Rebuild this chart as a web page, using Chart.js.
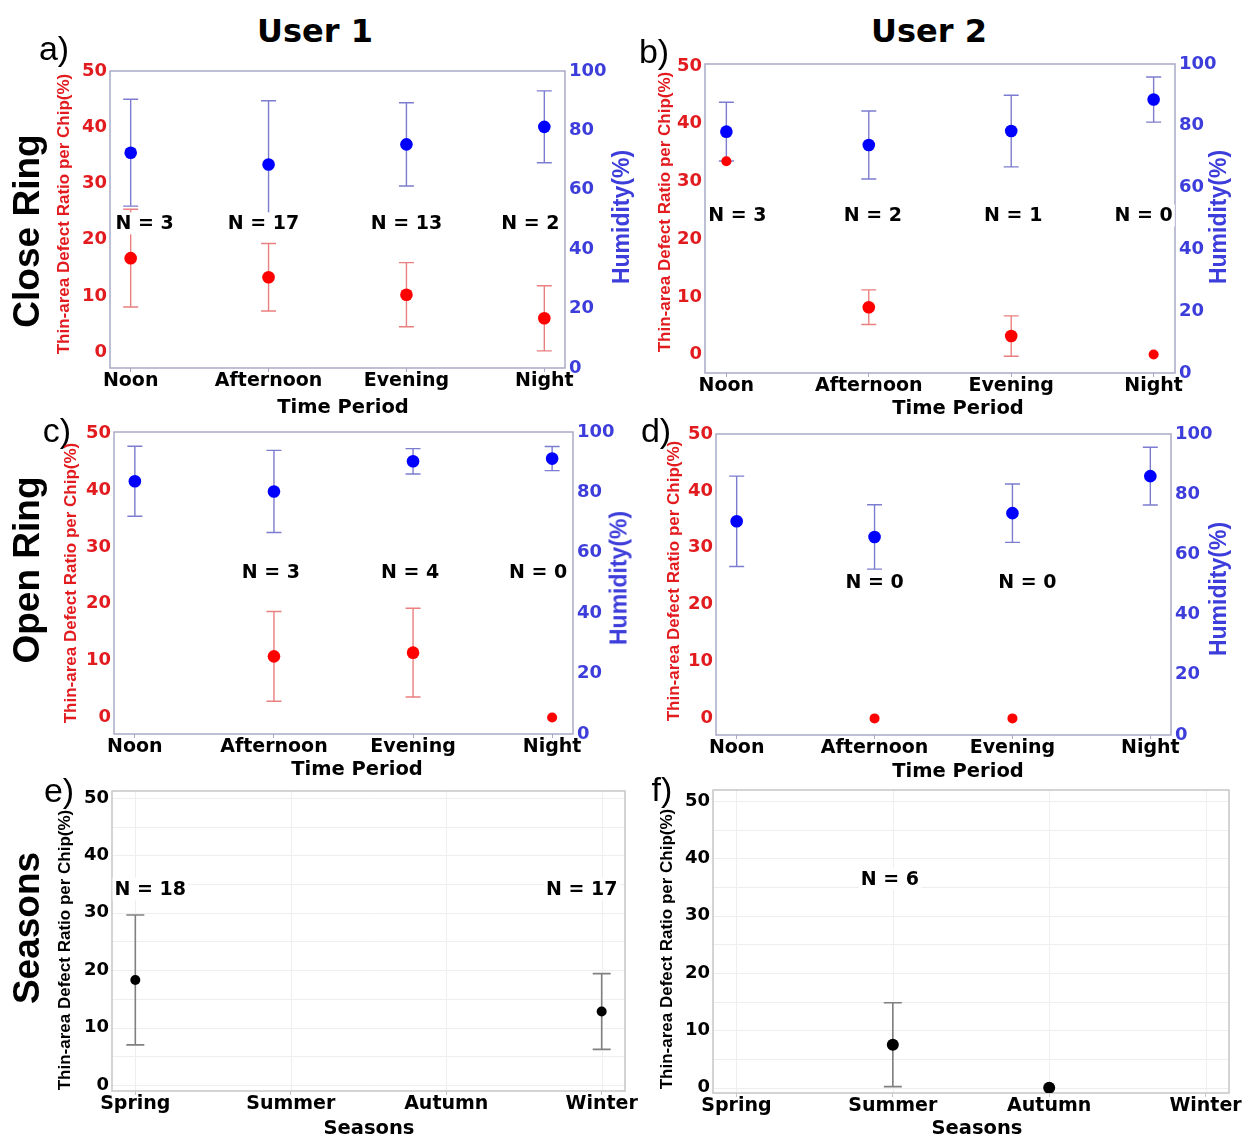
<!DOCTYPE html>
<html>
<head>
<meta charset="utf-8">
<script src="https://cdn.jsdelivr.net/npm/chart.js@4.4.1/dist/chart.umd.min.js"></script>
<style>
  html, body { margin: 0; padding: 0; background: #fff; }
  #fig { position: relative; width: 1244px; height: 1136px; overflow: hidden; background: #fff; }
  #fig canvas { position: absolute; }
  .txt { position: absolute; white-space: nowrap; line-height: 1; transform: translate(-50%, -50%); }
  .txt.rot { transform: translate(-50%, -50%) rotate(-90deg); }
</style>
</head>
<body>
<div id="fig"></div>
<script>
// ---- categories and tick labels ----
const timePeriods = ['Noon', 'Afternoon', 'Evening', 'Night'];
const seasons = ['Spring', 'Summer', 'Autumn', 'Winter'];
const categoryTicks = [0, 1, 2, 3];
const defectTicks = [0, 10, 20, 30, 40, 50];
const humidityTicks = [0, 20, 40, 60, 80, 100];
const seasonGridSteps = [0, 5, 10, 15, 20, 25, 30, 35, 40, 45, 50];

// ---- User 1, close ring ----
const defectCloseU1   = [16.7, 13.3, 10.2, 6.0];
const defectCloseU1Sd = [8.7, 6.0, 5.7, 5.8];
const humidCloseU1    = [72.5, 68.5, 75.3, 81.2];
const humidCloseU1Sd  = [18.0, 21.5, 14.0, 12.1];
const nCloseU1        = [3, 17, 13, 2];

// ---- User 2, close ring ----
const defectCloseU2   = [33.5, 8.2, 3.2, 0];
const defectCloseU2Sd = [0, 3.0, 3.5, 0];
const humidCloseU2    = [78.1, 73.8, 78.3, 88.5];
const humidCloseU2Sd  = [9.5, 11.0, 11.6, 7.3];
const nCloseU2        = [3, 2, 1, 0];

// ---- User 1, open ring ----
const defectOpenU1   = [null, 10.75, 11.4, 0];
const defectOpenU1Sd = [null, 7.9, 7.8, 0];
const humidOpenU1    = [83.7, 80.3, 90.3, 91.2];
const humidOpenU1Sd  = [11.6, 13.6, 4.2, 4.0];
const nOpenU1        = [null, 3, 4, 0];

// ---- User 2, open ring ----
const defectOpenU2   = [null, 0, 0, null];
const defectOpenU2Sd = [null, 0, 0, null];
const humidOpenU2    = [71.0, 65.8, 73.7, 86.0];
const humidOpenU2Sd  = [15.0, 10.7, 9.7, 9.6];
const nOpenU2        = [null, 0, 0, null];

// ---- seasons ----
const defectSeasonU1   = [18.3, null, null, 12.8];
const defectSeasonU1Sd = [11.3, null, null, 6.6];
const nSeasonU1        = [18, null, null, 17];
const defectSeasonU2   = [null, 7.5, 0, null];
const defectSeasonU2Sd = [null, 7.3, 0, null];
const nSeasonU2        = [null, 6, null, null];

// ---- styling ----
const RED = '#ff0000', RED_TXT = '#e21b1f', RED_BAR = '#ea7f7f';
const BLUE = '#0000ff', BLUE_TXT = '#3d3ddb', BLUE_BAR = '#7c7cd0';
const GREY_BAR = '#808080';
const FRAME_TIME = '#a9a9c6', FRAME_SEASON = '#c6c6c6';
const TICK_FONT = 'DejaVu Sans';

Chart.defaults.font.family = TICK_FONT;
Chart.defaults.animation = false;

const fig = document.getElementById('fig');

const panels = [
  { area: {l: 110, t: 70, r: 565, b: 368}, cats: timePeriods, yMin: -2.84, yMax: 50, dual: true,
    defect: defectCloseU1, defectSd: defectCloseU1Sd, humid: humidCloseU1, humidSd: humidCloseU1Sd,
    counts: nCloseU1, countY: 22.9, countDx: [14, -5, 0, -14] },
  { area: {l: 705, t: 63, r: 1175, b: 373}, cats: timePeriods, yMin: -3.2, yMax: 50.35, dual: true,
    defect: defectCloseU2, defectSd: defectCloseU2Sd, humid: humidCloseU2, humidSd: humidCloseU2Sd,
    counts: nCloseU2, countY: 24.1, countDx: [11, 4, 2, -10] },
  { area: {l: 114, t: 431, r: 573, b: 734}, cats: timePeriods, yMin: -2.9, yMax: 50.2, dual: true,
    defect: defectOpenU1, defectSd: defectOpenU1Sd, humid: humidOpenU1, humidSd: humidOpenU1Sd,
    counts: nOpenU1, countY: 25.5, countDx: [0, -3, -3, -14] },
  { area: {l: 716, t: 433, r: 1171, b: 735}, cats: timePeriods, yMin: -2.92, yMax: 50, dual: true,
    defect: defectOpenU2, defectSd: defectOpenU2Sd, humid: humidOpenU2, humidSd: humidOpenU2Sd,
    counts: nOpenU2, countY: 23.9, countDx: [0, 0, 15, 0] },
  { area: {l: 112, t: 791, r: 625, b: 1091}, cats: seasons, yMin: -1.04, yMax: 51.2, dual: false,
    defect: defectSeasonU1, defectSd: defectSeasonU1Sd, radius: 5,
    counts: nSeasonU1, countY: 34.2, countDx: [15, 0, 0, -20] },
  { area: {l: 713, t: 790, r: 1229, b: 1093}, cats: seasons, yMin: -0.92, yMax: 51.9, dual: false,
    defect: defectSeasonU2, defectSd: defectSeasonU2Sd, radius: 6,
    counts: nSeasonU2, countY: 36.4, countDx: [0, -3, 0, 0] }
];

function toPoints(vals, sds) {
  return vals.map((v, i) => v == null ? null : {x: i, y: v, sd: (sds && sds[i]) || 0}).filter(Boolean);
}

// frame, faint grid, error bars and "N = .." annotations
function decorPlugin(p) {
  return {
    id: 'panelDecor',
    beforeDatasetsDraw(chart) {
      const {ctx, chartArea: a, scales} = chart;
      ctx.save();
      if (!p.dual) {
        ctx.strokeStyle = '#eeeeee';
        ctx.lineWidth = 1;
        ctx.beginPath();
        seasonGridSteps.forEach(v => {
          const y = Math.round(scales.y.getPixelForValue(v)) + 0.5;
          ctx.moveTo(a.left, y); ctx.lineTo(a.right, y);
        });
        categoryTicks.forEach(v => {
          const x = Math.round(scales.x.getPixelForValue(v)) + 0.5;
          ctx.moveTo(x, a.top); ctx.lineTo(x, a.bottom);
        });
        ctx.stroke();
      }
      ctx.strokeStyle = p.dual ? FRAME_TIME : FRAME_SEASON;
      ctx.lineWidth = 1.5;
      ctx.strokeRect(a.left, a.top, a.right - a.left, a.bottom - a.top);

      chart.data.datasets.forEach(ds => {
        const ys = scales[ds.yAxisID];
        const cap = ds.capHalf;
        ctx.strokeStyle = ds.barColor;
        ctx.lineWidth = ds.barWidth;
        ds.data.forEach(pt => {
          if (!pt.sd) return;
          const x = scales.x.getPixelForValue(pt.x);
          const yHi = ys.getPixelForValue(pt.y + pt.sd);
          const yLo = ys.getPixelForValue(pt.y - pt.sd);
          ctx.beginPath();
          ctx.moveTo(x, yLo); ctx.lineTo(x, yHi);
          ctx.moveTo(x - cap, yLo); ctx.lineTo(x + cap, yLo);
          ctx.moveTo(x - cap, yHi); ctx.lineTo(x + cap, yHi);
          ctx.stroke();
        });
      });
      ctx.restore();
    },
    afterDatasetsDraw(chart) {
      const {ctx, scales} = chart;
      ctx.save();
      ctx.font = 'bold 19px ' + TICK_FONT;
      ctx.textAlign = 'center';
      ctx.textBaseline = 'middle';
      p.counts.forEach((n, i) => {
        if (n == null) return;
        const label = 'N = ' + n;
        const x = scales.x.getPixelForValue(i) + p.countDx[i];
        const y = scales.y.getPixelForValue(p.countY);
        const w = ctx.measureText(label).width;
        ctx.fillStyle = '#ffffff';
        ctx.fillRect(x - w / 2 - 2, y - 11, w + 4, 22);
        ctx.fillStyle = '#000000';
        ctx.fillText(label, x, y + 1);
      });
      ctx.restore();
    }
  };
}

function makePanel(p) {
  const LW = 62, RW = 60, TOP = 12, XH = 34;
  const w = (p.area.r - p.area.l) + LW + RW;
  const h = (p.area.b - p.area.t) + TOP + XH;
  const cv = document.createElement('canvas');
  cv.width = w; cv.height = h;
  cv.style.width = w + 'px'; cv.style.height = h + 'px';
  cv.style.left = (p.area.l - LW) + 'px';
  cv.style.top = (p.area.t - TOP) + 'px';
  fig.appendChild(cv);

  const noErrRadius = p.dual ? 5 : p.radius;
  const hasErrRadius = p.dual ? 6.3 : p.radius;
  const radiusFn = ctx => (ctx.raw && ctx.raw.sd > 0 ? hasErrRadius : noErrRadius);

  const datasets = [{
    data: toPoints(p.defect, p.defectSd),
    yAxisID: 'y',
    backgroundColor: p.dual ? RED : '#000000',
    borderWidth: 0,
    pointRadius: radiusFn,
    pointHoverRadius: radiusFn,
    barColor: p.dual ? RED_BAR : GREY_BAR,
    barWidth: p.dual ? 1.4 : 1.6,
    capHalf: p.dual ? 7.5 : 9
  }];
  if (p.dual) {
    datasets.push({
      data: toPoints(p.humid, p.humidSd),
      yAxisID: 'y2',
      backgroundColor: BLUE,
      borderWidth: 0,
      pointRadius: radiusFn,
      pointHoverRadius: radiusFn,
      barColor: BLUE_BAR,
      barWidth: 1.4,
      capHalf: 7.5
    });
  }

  const tickFont = size => ({size: size, weight: 'bold', lineHeight: 1, family: TICK_FONT});
  const scales = {
    x: {
      type: 'linear', min: -0.15, max: 3.15,
      afterBuildTicks: s => { s.ticks = categoryTicks.map(v => ({value: v})); },
      afterFit: s => { s.height = XH; },
      ticks: {callback: v => p.cats[v], color: '#000', font: tickFont(19), padding: 0,
              maxRotation: 0, autoSkip: false},
      grid: {drawOnChartArea: false, drawTicks: true, tickLength: 4,
             color: p.dual ? FRAME_TIME : FRAME_SEASON},
      border: {display: false}
    },
    y: {
      type: 'linear', position: 'left', min: p.yMin, max: p.yMax,
      afterBuildTicks: s => { s.ticks = defectTicks.map(v => ({value: v})); },
      afterFit: s => { s.width = LW; },
      ticks: {color: p.dual ? RED_TXT : '#000', font: tickFont(18), padding: 3},
      grid: {display: false, drawTicks: false},
      border: {display: false}
    }
  };
  if (p.dual) {
    scales.y2 = {
      type: 'linear', position: 'right', min: 0, max: 100,
      afterBuildTicks: s => { s.ticks = humidityTicks.map(v => ({value: v})); },
      afterFit: s => { s.width = RW; },
      ticks: {color: BLUE_TXT, font: tickFont(18), padding: 4},
      grid: {display: false, drawTicks: false},
      border: {display: false}
    };
  }

  new Chart(cv, {
    type: 'scatter',
    data: {datasets: datasets},
    options: {
      responsive: false,
      animation: false,
      devicePixelRatio: 1,
      layout: {padding: {top: TOP, left: 0, bottom: 0, right: p.dual ? 0 : RW}},
      plugins: {legend: {display: false}, tooltip: {enabled: false}},
      scales: scales
    },
    plugins: [decorPlugin(p)]
  });
}

panels.forEach(makePanel);

// ---- headings, panel letters and axis titles ----
function addText(text, x, y, font, color, rotated) {
  const d = document.createElement('div');
  d.className = 'txt' + (rotated ? ' rot' : '');
  d.textContent = text;
  d.style.left = x + 'px';
  d.style.top = y + 'px';
  d.style.font = font;
  d.style.color = color;
  fig.appendChild(d);
}

const HEAD = 'bold 32px "DejaVu Sans"';
const LETTER = '34px "Liberation Sans"';
const ROW = 'bold 37px "Liberation Sans"';
const LEFT_T = 'bold 17px "Liberation Sans"';
const RIGHT_T = 'bold 23px "Liberation Sans"';
const XT = 'bold 19.5px "DejaVu Sans"';
const defectTitle = 'Thin-area Defect Ratio per Chip(%)';

addText('User 1', 315, 31, HEAD, '#000');
addText('User 2', 929, 31, HEAD, '#000');

addText('a)', 54, 48, LETTER, '#000');
addText('b)', 654, 51, LETTER, '#000');
addText('c)', 57, 430, LETTER, '#000');
addText('d)', 656, 430, LETTER, '#000');
addText('e)', 59, 790, LETTER, '#000');
addText('f)', 662, 789, LETTER, '#000');

addText('Close Ring', 27, 231, ROW, '#000', true);
addText('Open Ring', 27, 570, ROW, '#000', true);
addText('Seasons', 27, 928, ROW, '#000', true);

addText(defectTitle, 64, 214, LEFT_T, RED_TXT, true);
addText(defectTitle, 665, 212, LEFT_T, RED_TXT, true);
addText(defectTitle, 71, 583, LEFT_T, RED_TXT, true);
addText(defectTitle, 674, 581, LEFT_T, RED_TXT, true);
addText(defectTitle, 65, 950, LEFT_T, '#000', true);
addText(defectTitle, 667, 949, LEFT_T, '#000', true);

addText('Humidity(%)', 621, 217, RIGHT_T, BLUE_TXT, true);
addText('Humidity(%)', 1218, 217, RIGHT_T, BLUE_TXT, true);
addText('Humidity(%)', 619, 578, RIGHT_T, BLUE_TXT, true);
addText('Humidity(%)', 1218, 589, RIGHT_T, BLUE_TXT, true);

addText('Time Period', 343, 406, XT, '#000');
addText('Time Period', 958, 407, XT, '#000');
addText('Time Period', 357, 768, XT, '#000');
addText('Time Period', 958, 770, XT, '#000');
addText('Seasons', 369, 1127, XT, '#000');
addText('Seasons', 977, 1127, XT, '#000');
</script>
</body>
</html>
